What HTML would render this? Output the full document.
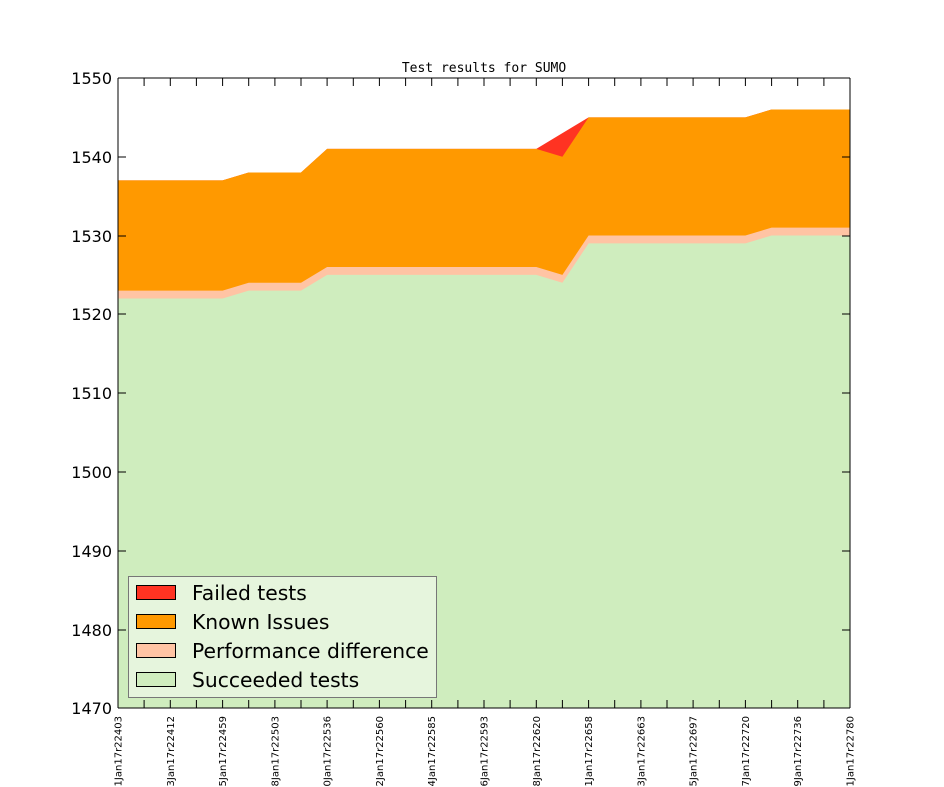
<!DOCTYPE html>
<html><head><meta charset="utf-8"><style>
html,body{margin:0;padding:0;background:#fff;}
svg{display:block;font-family:"DejaVu Sans","Liberation Sans",sans-serif;}
</style></head><body>
<svg width="944" height="787" viewBox="0 0 944 787" xmlns="http://www.w3.org/2000/svg">
<rect width="944" height="787" fill="#fff"/>
<text x="484" y="72" font-family="DejaVu Sans Mono, Liberation Mono, monospace" font-size="13" text-anchor="middle">Test results for SUMO</text>
<clipPath id="c"><rect x="118" y="78" width="732" height="630"/></clipPath>
<g clip-path="url(#c)">
<polygon fill="#ff3322" points="118,708 118,180.4 222.6,180.4 248.7,172.5 301,172.5 327.1,148.9 536.3,148.9 562.4,133.1 588.6,117.4 745.4,117.4 771.6,109.5 850,109.5 850,708"/>
<polygon fill="#ff9900" points="118,708 118,180.4 222.6,180.4 248.7,172.5 301,172.5 327.1,148.9 536.3,148.9 562.4,156.8 588.6,117.4 745.4,117.4 771.6,109.5 850,109.5 850,708"/>
<polygon fill="#ffc4a4" points="118,708 118,290.6 222.6,290.6 248.7,282.8 301,282.8 327.1,267 536.3,267 562.4,274.9 588.6,235.5 745.4,235.5 771.6,227.6 850,227.6 850,708"/>
<polygon fill="#cfedbe" points="118,708 118,298.5 222.6,298.5 248.7,290.6 301,290.6 327.1,274.9 536.3,274.9 562.4,282.8 588.6,243.4 745.4,243.4 771.6,235.5 850,235.5 850,708"/>
</g>
<g stroke="#000" stroke-width="1">
<path d="M118,78V708M850,78V708M118,78H850M118,708H850" fill="none"/>
<path d="M118,78h8M118,157h8M118,236h8M118,314h8M118,393h8M118,472h8M118,551h8M118,630h8M118,708h8
M850,78h-8M850,157h-8M850,236h-8M850,314h-8M850,393h-8M850,472h-8M850,551h-8M850,630h-8M850,708h-8"/>
<path d="M144.1,708v-8M170.3,708v-8M196.4,708v-8M222.6,708v-8M248.7,708v-8M274.9,708v-8M301,708v-8M327.1,708v-8M353.3,708v-8M379.4,708v-8M405.6,708v-8M431.7,708v-8M457.9,708v-8M484,708v-8M510.1,708v-8M536.3,708v-8M562.4,708v-8M588.6,708v-8M614.7,708v-8M640.9,708v-8M667,708v-8M693.1,708v-8M719.3,708v-8M745.4,708v-8M771.6,708v-8M797.7,708v-8M823.9,708v-8
M144.1,78v8M170.3,78v8M196.4,78v8M222.6,78v8M248.7,78v8M274.9,78v8M301,78v8M327.1,78v8M353.3,78v8M379.4,78v8M405.6,78v8M431.7,78v8M457.9,78v8M484,78v8M510.1,78v8M536.3,78v8M562.4,78v8M588.6,78v8M614.7,78v8M640.9,78v8M667,78v8M693.1,78v8M719.3,78v8M745.4,78v8M771.6,78v8M797.7,78v8M823.9,78v8"/>
</g>
<g font-size="16" text-anchor="end">
<text x="112" y="84">1550</text><text x="112" y="163">1540</text><text x="112" y="242">1530</text><text x="112" y="320">1520</text><text x="112" y="399">1510</text><text x="112" y="478">1500</text><text x="112" y="557">1490</text><text x="112" y="636">1480</text><text x="112" y="714">1470</text>
</g>
<g font-size="10" text-anchor="end">
<text transform="translate(121.5,716) rotate(-90)">201701Jan17r22403</text>
<text transform="translate(173.8,716) rotate(-90)">201703Jan17r22412</text>
<text transform="translate(226.1,716) rotate(-90)">201705Jan17r22459</text>
<text transform="translate(278.4,716) rotate(-90)">201708Jan17r22503</text>
<text transform="translate(330.6,716) rotate(-90)">201710Jan17r22536</text>
<text transform="translate(382.9,716) rotate(-90)">201712Jan17r22560</text>
<text transform="translate(435.2,716) rotate(-90)">201714Jan17r22585</text>
<text transform="translate(487.5,716) rotate(-90)">201716Jan17r22593</text>
<text transform="translate(539.8,716) rotate(-90)">201718Jan17r22620</text>
<text transform="translate(592.1,716) rotate(-90)">201721Jan17r22658</text>
<text transform="translate(644.4,716) rotate(-90)">201723Jan17r22663</text>
<text transform="translate(696.6,716) rotate(-90)">201725Jan17r22697</text>
<text transform="translate(748.9,716) rotate(-90)">201727Jan17r22720</text>
<text transform="translate(801.2,716) rotate(-90)">201729Jan17r22736</text>
<text transform="translate(853.5,716) rotate(-90)">201731Jan17r22780</text>
</g>
<rect x="128.5" y="576.5" width="308" height="121" fill="#e6f5dd" stroke="#777" stroke-width="1"/>
<g stroke="#000" stroke-width="1">
<rect x="136.5" y="585.5" width="39" height="14" fill="#ff3322"/>
<rect x="136.5" y="614.5" width="39" height="14" fill="#ff9900"/>
<rect x="136.5" y="643.5" width="39" height="14" fill="#ffc4a4"/>
<rect x="136.5" y="672.5" width="39" height="14" fill="#cfedbe"/>
</g>
<g font-size="20.3">
<text x="192" y="600">Failed tests</text>
<text x="192" y="629">Known Issues</text>
<text x="192" y="658">Performance difference</text>
<text x="192" y="687">Succeeded tests</text>
</g>
</svg>
</body></html>
